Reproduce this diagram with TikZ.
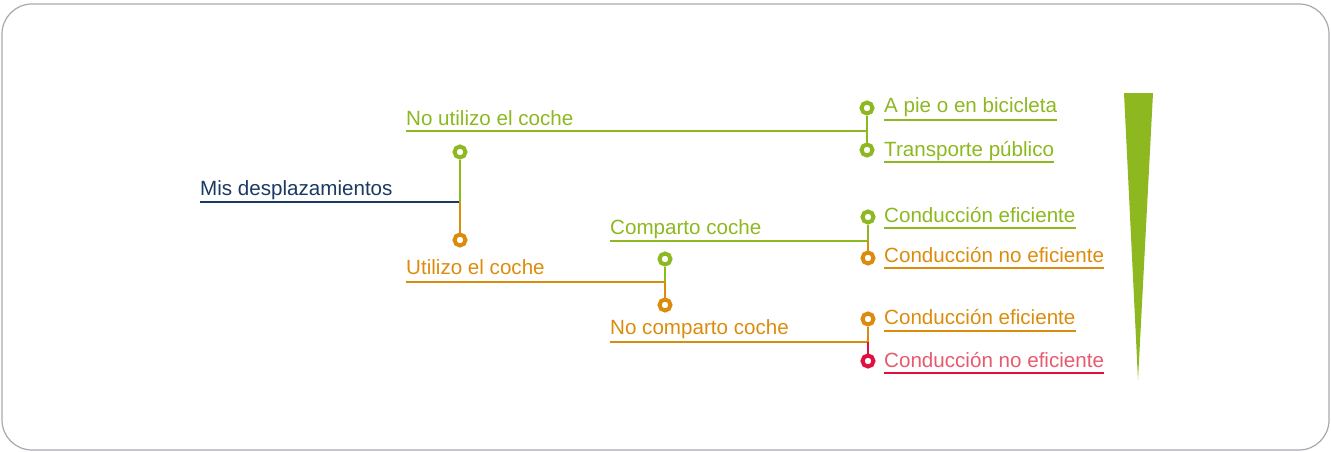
\documentclass[tikz,border=0pt]{standalone}
\usepackage{fontspec}
\setmainfont{Liberation Sans}
\definecolor{grn}{HTML}{8DB81F}
\definecolor{org}{HTML}{DC8C0C}
\definecolor{redl}{HTML}{E0103F}
\definecolor{redt}{HTML}{E65A70}
\definecolor{navy}{HTML}{1A3A63}
\definecolor{frame}{HTML}{A8A8B0}
\begin{document}
\begin{tikzpicture}[x=1pt,y=-1pt,
  lab/.style={anchor=base west,inner sep=0pt,font=\fontsize{20.6}{24}\selectfont},
  ring/.style={circle,draw=#1,line width=4pt,fill=white,minimum size=11pt,inner sep=0pt},
  conn/.style={draw=#1,line width=1.8pt}]
\useasboundingbox (0,0) rectangle (1331,452);
\draw[frame,line width=1.2pt,rounded corners=30pt] (2,4) rectangle (1329,450);
% wedge
\fill[grn] (1124,93) -- (1153,93) -- (1138,380) -- cycle;
% root
\node[lab,text=navy] (t0) at (200,195) {Mis desplazamientos};
\coordinate (j0) at (460,202);
\node[ring=grn] (c01) at (460,152) {};
\node[ring=org] (c02) at (460,240) {};
\draw[conn=navy] (t0.base west |- j0) -- (j0);
\draw[conn=grn] (j0) -- (c01);
\draw[conn=org] (j0) -- (c02);
% No utilizo el coche
\node[lab,text=grn] (t1) at (406,125) {No utilizo el coche};
\coordinate (j1) at (867,131);
\node[ring=grn] (c11) at (867,108) {};
\node[ring=grn] (c12) at (867,150) {};
\draw[conn=grn] (t1.base west |- j1) -- (j1);
\draw[conn=grn] (c11) -- (c12);
\node[lab,text=grn] (t11) at (884,113) {A pie o en bicicleta};
\node[lab,text=grn] (t12) at (884,156) {Transporte público};
\draw[conn=grn] ([yshift=-7pt]t11.base west) -- ([yshift=-7pt]t11.base east);
\draw[conn=grn] ([yshift=-6pt]t12.base west) -- ([yshift=-6pt]t12.base east);
% Utilizo el coche
\node[lab,text=org] (t2) at (406,274) {Utilizo el coche};
\coordinate (j2) at (665,282);
\node[ring=grn] (c21) at (665,259) {};
\node[ring=org] (c22) at (665,305) {};
\draw[conn=org] (t2.base west |- j2) -- (j2);
\draw[conn=grn] (j2) -- (c21);
\draw[conn=org] (j2) -- (c22);
% Comparto coche
\node[lab,text=grn] (t3) at (610,234.5) {Comparto coche};
\coordinate (j3) at (868,241);
\node[ring=grn] (c31) at (868,217) {};
\node[ring=org] (c32) at (868,258) {};
\draw[conn=grn] (t3.base west |- j3) -- (j3);
\draw[conn=grn] (j3) -- (c31);
\draw[conn=org] (j3) -- (c32);
\node[lab,text=grn] (t31) at (884,222.5) {Conducción eficiente};
\node[lab,text=org] (t32) at (884,262.5) {Conducción no eficiente};
\draw[conn=grn] ([yshift=-5.5pt]t31.base west) -- ([yshift=-5.5pt]t31.base east);
\draw[conn=org] ([yshift=-5.5pt]t32.base west) -- ([yshift=-5.5pt]t32.base east);
% No comparto coche
\node[lab,text=org] (t4) at (610,334) {No comparto coche};
\coordinate (j4) at (868,342);
\node[ring=org] (c41) at (868,319) {};
\node[ring=redl] (c42) at (868,361) {};
\draw[conn=org] (t4.base west |- j4) -- (j4);
\draw[conn=org] (j4) -- (c41);
\draw[conn=redl] (j4) -- (c42);
\node[lab,text=org] (t41) at (884,324.5) {Conducción eficiente};
\node[lab,text=redt] (t42) at (884,367) {Conducción no eficiente};
\draw[conn=org] ([yshift=-6.5pt]t41.base west) -- ([yshift=-6.5pt]t41.base east);
\draw[conn=redl] ([yshift=-6pt]t42.base west) -- ([yshift=-6pt]t42.base east);
\end{tikzpicture}
\end{document}
